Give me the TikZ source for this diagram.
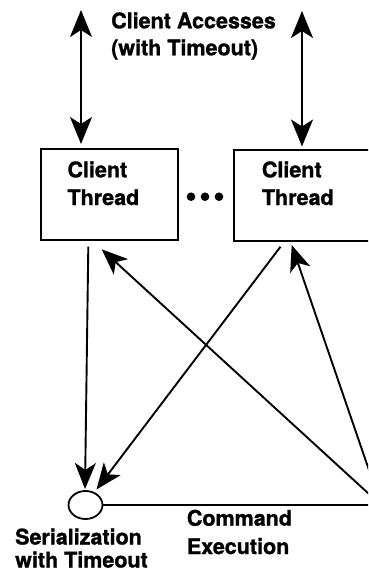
\documentclass[tikz,border=0pt]{standalone}
\usepackage{fontspec}
\setmainfont{TeX Gyre Heros}[BoldFeatures={FakeBold=1.2}]
\usetikzlibrary{arrows.meta,shapes.geometric}
\tikzset{
  lbl/.style={anchor=base west, inner sep=0pt, font=\fontsize{21.5}{27}\selectfont\bfseries},
  tbox/.style={draw, line width=2pt, inner sep=0pt, anchor=north west},
  con/.style={line width=1.9pt},
  tip/.style={-{Stealth[length=26pt,width=21pt,inset=7pt]}},
  dtip/.style={{Stealth[length=27pt,width=22pt,inset=7pt]}-{Stealth[length=27pt,width=22pt,inset=7pt]}},
  dot/.style={circle, fill, inner sep=0pt, minimum size=8.6pt}
}
\begin{document}
\begin{tikzpicture}[x=1pt,y=-1pt]
\useasboundingbox (0,0) rectangle (368,573);
\clip (0,0) rectangle (368,573);
% boxes
\node[tbox, minimum width=137pt, minimum height=91pt] (lb) at (40,148.3) {};
\node[tbox, minimum width=140pt, minimum height=91pt] (rb) at (232.7,149.3) {};
% texts
\node[lbl] (t1) at (111,28.3) {Client Accesses};
\node[lbl] (t2) at (111,55.3) {(with Timeout)};
\node[lbl] (lc) at (67.3,177.3) {Client};
\node[lbl] (lt) at (67.3,205) {Thread};
\node[lbl] (rc) at (261.7,177.3) {Client};
\node[lbl] (rt) at (261.7,205) {Thread};
\node[lbl] (s1) at (15,544.5) {Serialization};
\node[lbl] (s2) at (15,567.5) {with Timeout};
\node[lbl] (c1) at (186.7,525.7) {Command};
\node[lbl] (c2) at (186.7,554) {Execution};
% dots
\node[dot] (d1) at (191,196.7) {};
\node[dot] (d2) at (205,196.7) {};
\node[dot] (d3) at (219,196.7) {};
% serialization point
\node[ellipse, draw, line width=1.8pt, minimum width=34pt, minimum height=28pt, inner sep=0pt] (ser) at (85.5,505) {};
% coordinates
\coordinate (la1) at (81,10);
\coordinate (la2) at (81,144);
\coordinate (ra1) at (302,11);
\coordinate (ra2) at (302,146.5);
\coordinate (lbo) at (88.3,246.7);
\coordinate (rbo) at (280.5,246.7);
\coordinate (sin1) at (85,489);
\coordinate (sin2) at (96.5,489.5);
\coordinate (lbi) at (101.7,249.3);
\coordinate (rbi) at (291.7,245);
\coordinate (ex) at (381,505);
% connectors
\draw[con, dtip] (la1) -- (la2);
\draw[con, dtip] (ra1) -- (ra2);
\draw[con, tip] (lbo) -- (sin1);
\draw[con, tip] (rbo) -- (sin2);
\draw[con, tip] (ex) -- (lbi);
\draw[con, tip] (ex) -- (rbi);
\draw[con] (ser.east) -- (ex);
\end{tikzpicture}
\end{document}
